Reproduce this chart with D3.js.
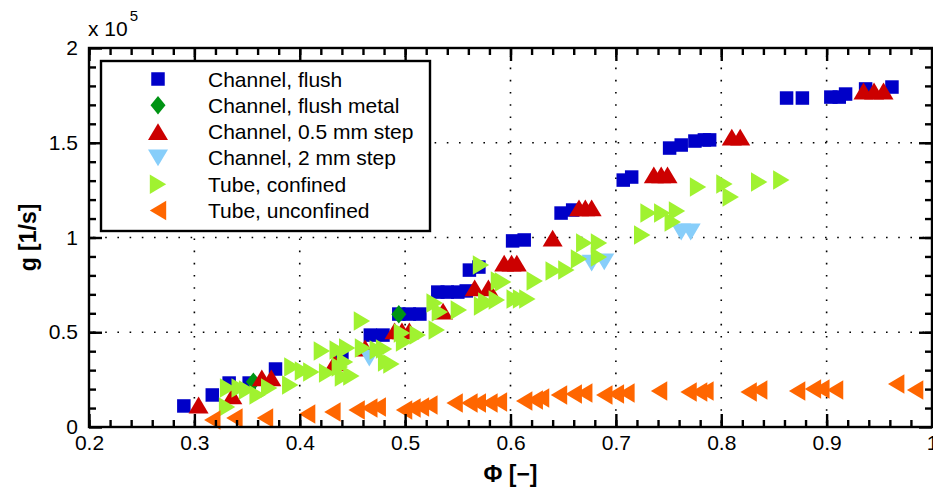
<!DOCTYPE html>
<html>
<head>
<meta charset="utf-8">
<script src="https://cdn.jsdelivr.net/npm/d3@7"></script>
<style>
    body { margin: 0; background: #fff; }
    svg { display: block; font-family: "Liberation Sans", Arial, sans-serif; }
</style>
</head>
<body>
<div id="chart"></div>
<script>
// [phi, g] pairs, g in units of 10^5 1/s
const channelFlush = [
    [0.290, 0.111], [0.317, 0.169], [0.333, 0.232], [0.352, 0.232], [0.377, 0.306],
    [0.440, 0.391], [0.467, 0.485], [0.479, 0.485], [0.494, 0.596], [0.504, 0.596],
    [0.514, 0.596], [0.531, 0.712], [0.540, 0.712], [0.550, 0.712], [0.558, 0.718],
    [0.561, 0.828], [0.570, 0.844], [0.602, 0.982], [0.613, 0.987], [0.648, 1.129],
    [0.659, 1.145], [0.707, 1.303], [0.715, 1.319], [0.751, 1.472], [0.762, 1.488],
    [0.775, 1.509], [0.784, 1.515], [0.789, 1.515], [0.862, 1.736], [0.877, 1.736],
    [0.904, 1.741], [0.912, 1.741], [0.918, 1.757], [0.937, 1.784], [0.962, 1.794]
];
const channelFlushMetal = [
    [0.356, 0.239], [0.494, 0.595]
];
const channelStep05 = [
    [0.304, 0.116], [0.336, 0.164], [0.364, 0.259], [0.373, 0.259], [0.433, 0.338],
    [0.462, 0.417], [0.490, 0.507], [0.497, 0.507], [0.504, 0.507], [0.536, 0.612],
    [0.566, 0.734], [0.579, 0.734], [0.594, 0.865], [0.601, 0.865], [0.606, 0.865],
    [0.640, 0.997], [0.665, 1.156], [0.671, 1.156], [0.677, 1.156], [0.736, 1.330],
    [0.743, 1.330], [0.749, 1.330], [0.810, 1.530], [0.818, 1.530], [0.935, 1.773],
    [0.945, 1.773], [0.954, 1.773]
];
const channelStep2 = [
    [0.466, 0.364], [0.677, 0.865], [0.689, 0.871], [0.762, 1.029], [0.771, 1.029]
];
const tubeConfined = [
    [0.331, 0.106], [0.332, 0.206], [0.343, 0.206], [0.350, 0.195], [0.360, 0.169],
    [0.371, 0.206], [0.391, 0.222], [0.393, 0.317], [0.403, 0.296], [0.411, 0.290],
    [0.421, 0.401], [0.426, 0.285], [0.438, 0.317], [0.443, 0.343], [0.441, 0.264],
    [0.436, 0.406], [0.445, 0.417], [0.449, 0.269], [0.459, 0.559], [0.460, 0.417],
    [0.474, 0.406], [0.482, 0.343], [0.480, 0.412], [0.487, 0.332], [0.497, 0.496],
    [0.499, 0.449], [0.512, 0.485], [0.530, 0.512], [0.528, 0.654], [0.533, 0.607],
    [0.551, 0.617], [0.573, 0.639], [0.587, 0.670], [0.577, 0.660], [0.572, 0.855],
    [0.589, 0.770], [0.593, 0.765], [0.604, 0.675], [0.610, 0.675], [0.616, 0.675],
    [0.623, 0.770], [0.641, 0.823], [0.653, 0.828], [0.665, 0.887], [0.670, 0.971],
    [0.684, 0.971], [0.684, 0.897], [0.725, 1.013], [0.731, 1.129], [0.744, 1.129],
    [0.758, 1.140], [0.754, 1.082], [0.778, 1.266], [0.803, 1.282], [0.809, 1.214],
    [0.836, 1.293], [0.857, 1.303]
];
const tubeUnconfined = [
    [0.317, 0.037], [0.338, 0.047], [0.367, 0.047], [0.407, 0.069], [0.431, 0.079],
    [0.454, 0.090], [0.466, 0.100], [0.474, 0.106], [0.499, 0.090], [0.507, 0.100],
    [0.515, 0.106], [0.523, 0.116], [0.547, 0.127], [0.561, 0.127], [0.569, 0.127],
    [0.580, 0.127], [0.589, 0.132], [0.613, 0.137], [0.623, 0.142], [0.629, 0.153],
    [0.646, 0.169], [0.660, 0.174], [0.670, 0.179], [0.689, 0.169], [0.700, 0.174],
    [0.710, 0.179], [0.741, 0.190], [0.769, 0.185], [0.779, 0.185], [0.785, 0.190],
    [0.826, 0.185], [0.836, 0.195], [0.872, 0.190], [0.887, 0.201], [0.895, 0.201],
    [0.908, 0.195], [0.966, 0.227], [0.984, 0.195]
];

const seriesNames = [
    "Channel, flush", "Channel, flush metal", "Channel, 0.5 mm step",
    "Channel, 2 mm step", "Tube, confined", "Tube, unconfined"
];
const xTicks = [0.2, 0.3, 0.4, 0.5, 0.6, 0.7, 0.8, 0.9, 1];
const yTicks = [0, 0.5, 1, 1.5, 2];
const xMinor = d3.range(10, 50).map(d => d / 50);
const yMinor = d3.range(1, 20).map(d => d / 10);

// marker shapes, centred on their bounding box
const shapes = {
    square: s => `M${-s / 2},${-s / 2}h${s}v${s}h${-s}Z`,
    diamond: s => `M0,${-s * 0.62}L${s / 2},0L0,${s * 0.62}L${-s / 2},0Z`,
    up: s => `M0,${-s * 0.42}L${s / 2},${s * 0.42}L${-s / 2},${s * 0.42}Z`,
    down: s => `M0,${s * 0.42}L${s / 2},${-s * 0.42}L${-s / 2},${-s * 0.42}Z`,
    right: s => `M${s * 0.42},0L${-s * 0.42},${s / 2}L${-s * 0.42},${-s / 2}Z`,
    left: s => `M${-s * 0.42},0L${s * 0.42},${s / 2}L${s * 0.42},${-s / 2}Z`
};

const series = [
    { name: seriesNames[0], data: channelFlush, color: "#0000c8", shape: "square", size: 13.5 },
    { name: seriesNames[1], data: channelFlushMetal, color: "#009414", shape: "diamond", size: 15 },
    { name: seriesNames[2], data: channelStep05, color: "#cc0000", shape: "up", size: 20 },
    { name: seriesNames[3], data: channelStep2, color: "#87cefa", shape: "down", size: 20 },
    { name: seriesNames[4], data: tubeConfined, color: "#a0f230", shape: "right", size: 19.5 },
    { name: seriesNames[5], data: tubeUnconfined, color: "#ff6600", shape: "left", size: 19.5 }
];

const width = 933;
const height = 495;
const plotLeft = 89, plotRight = 932, plotTop = 48, plotBottom = 427;

const x = d3.scaleLinear().domain([0.2, 1]).range([plotLeft, plotRight]);
const y = d3.scaleLinear().domain([0, 2]).range([plotBottom, plotTop]);

const svg = d3.select("#chart")
    .append("svg")
    .attr("width", width)
    .attr("height", height);

// dotted grid
const grid = svg.append("g")
    .attr("stroke", "#000")
    .attr("stroke-width", 1.6)
    .attr("stroke-dasharray", "1.6 10.6")
    .attr("fill", "none");

grid.selectAll(".vgrid")
    .data(xTicks.slice(1, -1))
    .enter().append("line")
    .attr("x1", d => x(d))
    .attr("x2", d => x(d))
    .attr("y1", plotBottom - 4)
    .attr("y2", plotTop);

grid.selectAll(".hgrid")
    .data(yTicks.slice(1, -1))
    .enter().append("line")
    .attr("x1", plotLeft + 4)
    .attr("x2", plotRight)
    .attr("y1", d => y(d))
    .attr("y2", d => y(d));

// data markers
series.forEach(s => {
    svg.append("g")
        .selectAll("path")
        .data(s.data)
        .enter().append("path")
        .attr("d", shapes[s.shape](s.size))
        .attr("transform", d => `translate(${x(d[0])},${y(d[1])})`)
        .attr("fill", s.color);
});

// axes with inward ticks
function styleAxis(g) {
    g.select(".domain").remove();
    g.selectAll(".tick line")
        .attr("stroke", "#000")
        .attr("stroke-width", 2.4);
    g.selectAll(".tick text")
        .attr("fill", "#000")
        .style("font-size", "21px");
}

svg.append("g")
    .attr("transform", `translate(0,${plotBottom})`)
    .call(d3.axisBottom(x).tickValues(xMinor).tickSize(-7).tickFormat(""))
    .call(styleAxis);
svg.append("g")
    .attr("transform", `translate(0,${plotBottom})`)
    .call(d3.axisBottom(x).tickValues(xTicks).tickSize(-13).tickPadding(8).tickFormat(d3.format("~g")))
    .call(styleAxis);
svg.append("g")
    .attr("transform", `translate(0,${plotTop})`)
    .call(d3.axisTop(x).tickValues(xMinor).tickSize(-7).tickFormat(""))
    .call(styleAxis);
svg.append("g")
    .attr("transform", `translate(0,${plotTop})`)
    .call(d3.axisTop(x).tickValues(xTicks).tickSize(-13).tickFormat(""))
    .call(styleAxis);

svg.append("g")
    .attr("transform", `translate(${plotLeft},0)`)
    .call(d3.axisLeft(y).tickValues(yMinor).tickSize(-7).tickFormat(""))
    .call(styleAxis);
svg.append("g")
    .attr("transform", `translate(${plotLeft},0)`)
    .call(d3.axisLeft(y).tickValues(yTicks).tickSize(-13).tickPadding(11).tickFormat(d3.format("~g")))
    .call(styleAxis);
svg.append("g")
    .attr("transform", `translate(${plotRight},0)`)
    .call(d3.axisRight(y).tickValues(yMinor).tickSize(-7).tickFormat(""))
    .call(styleAxis);
svg.append("g")
    .attr("transform", `translate(${plotRight},0)`)
    .call(d3.axisRight(y).tickValues(yTicks).tickSize(-13).tickFormat(""))
    .call(styleAxis);

svg.append("rect")
    .attr("x", plotLeft)
    .attr("y", plotTop)
    .attr("width", plotRight - plotLeft)
    .attr("height", plotBottom - plotTop)
    .attr("fill", "none")
    .attr("stroke", "#000")
    .attr("stroke-width", 2.4);

// exponent label
const expo = svg.append("text")
    .attr("x", 88)
    .attr("y", 36)
    .style("font-size", "21px");
expo.append("tspan").text("x 10");
expo.append("tspan")
    .attr("dx", 2)
    .attr("dy", -15)
    .style("font-size", "15px")
    .text("5");

// axis titles
svg.append("text")
    .attr("x", (plotLeft + plotRight) / 2)
    .attr("y", 482)
    .attr("text-anchor", "middle")
    .style("font-size", "23px")
    .style("font-weight", "bold")
    .text("\u03A6 [\u2212]");

svg.append("text")
    .attr("transform", `translate(36,${(plotTop + plotBottom) / 2}) rotate(-90)`)
    .attr("text-anchor", "middle")
    .style("font-size", "23px")
    .style("font-weight", "bold")
    .text("g [1/s]");

// legend
const legend = svg.append("g")
    .attr("transform", "translate(101,61)");

legend.append("rect")
    .attr("width", 329)
    .attr("height", 170)
    .attr("fill", "#fff")
    .attr("stroke", "#000")
    .attr("stroke-width", 2.4);

const rows = legend.selectAll(".row")
    .data(series)
    .enter().append("g")
    .attr("transform", (d, i) => `translate(0,${18 + i * 26.3})`);

rows.append("path")
    .attr("d", d => shapes[d.shape](d.size))
    .attr("transform", "translate(57,0)")
    .attr("fill", d => d.color);

rows.append("text")
    .attr("x", 107)
    .attr("dy", "0.36em")
    .style("font-size", "21px")
    .text(d => d.name);
</script>
</body>
</html>
